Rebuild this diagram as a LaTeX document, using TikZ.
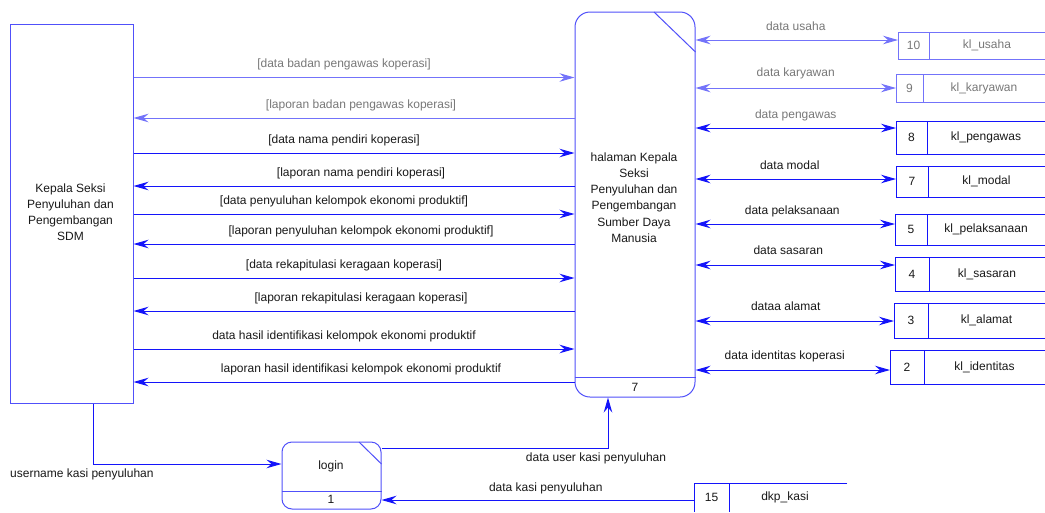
\documentclass[tikz,border=0pt]{standalone}
\usepackage{fontspec}
\setmainfont{Liberation Sans}
\usetikzlibrary{arrows.meta}

\definecolor{flowblue}{RGB}{20,20,250}
\definecolor{paleblue}{RGB}{115,115,250}
\definecolor{boxblue}{RGB}{80,80,250}
\definecolor{ink}{RGB}{25,25,25}
\definecolor{paleink}{RGB}{120,120,120}

\tikzset{
  >={Stealth[length=15pt,width=8.5pt,inset=5pt]},
  every node/.style={font=\fontsize{12}{14}\selectfont, text=ink, inner sep=0pt},
  flow/.style={draw=flowblue, line width=1pt, ->},
  bothways/.style={draw=flowblue, line width=1pt, <->},
  faded/.style={draw=paleblue},
  palelabel/.style={text=paleink},
  entitybox/.style={draw=boxblue, line width=1pt, inner sep=0pt},
  processbox/.style={draw=boxblue, line width=1pt, rounded corners=15pt, inner sep=0pt},
  boxline/.style={draw=boxblue, line width=1pt},
  storeslot/.style={inner sep=0pt, outer sep=0pt},
  storeframe/.style={draw=flowblue, line width=1pt},
}

% data store open on the right: #1 name, #2 left, #3 top, #4 bottom,
% #5 divider x, #6 number, #7 title, #8 line style, #9 text colour
\newcommand\datastore[9]{%
  \node[storeslot, anchor=north west,
        minimum width={(1045-#2)*1pt}, minimum height={(#4-#3)*1pt}] (#1) at (#2,#3) {};
  \draw[storeframe,#8] (#1.north east) -- (#1.north west) -- (#1.south west) -- (#1.south east)
        (#5,#3) -- (#5,#4);
  \node[text=#9] (#1-num) at ({(#2+#5)/2},{(#3+#4)/2}) {#6};
  \node[text=#9] (#1-name) at ({(#5+1045)/2},{(#3+#4)/2}) {#7};
}

\begin{document}
\begin{tikzpicture}[x=1pt,y=-1pt]
\fill[white] (0,0) rectangle (1045,512);
\useasboundingbox (0,0) rectangle (1045,512);

% external entity
\node[entitybox, minimum width=123pt, minimum height=379pt] (ent) at (71.5,213.5) {};
\node[align=center, font=\fontsize{12}{16}\selectfont] (enttext) at (70.5,212)
  {Kepala Seksi\\Penyuluhan dan\\Pengembangan\\SDM};

% process 7
\node[processbox, minimum width=120pt, minimum height=385pt] (proc) at (635,204.5) {};
\draw[boxline] (proc.west |- 0,377) -- (proc.east |- 0,377);
\draw[boxline] (654,12) -- (proc.east |- 0,52);
\node (procid) at (635,387) {7};
\node[align=center, font=\fontsize{12}{16.2}\selectfont] (proctext) at (634,197.5)
  {halaman Kepala\\Seksi\\Penyuluhan dan\\Pengembangan\\Sumber Daya\\Manusia};

% process 1
\node[processbox, rounded corners=10pt, minimum width=99pt, minimum height=67pt] (login) at (331.5,475.5) {};
\draw[boxline] (login.west |- 0,491) -- (login.east |- 0,491);
\draw[boxline] (359,442) -- (login.east |- 0,464);
\node (logintext) at (331,466) {login};
\node (loginid) at (331,499) {1};

% flows between entity and process 7
\draw[flow, faded] (ent.east |- 0,77.5) -- (proc.west |- 0,77.5)
  node[palelabel, midway, xshift=-10pt, yshift=13pt] {[data badan pengawas koperasi]};
\draw[flow, faded] (proc.west |- 0,118) -- (ent.east |- 0,118)
  node[palelabel, midway, xshift=7pt, yshift=13pt] {[laporan badan pengawas koperasi]};
\draw[flow] (ent.east |- 0,153) -- (proc.west |- 0,153)
  node[midway, xshift=-10pt, yshift=13pt] {[data nama pendiri koperasi]};
\draw[flow] (proc.west |- 0,186) -- (ent.east |- 0,186)
  node[midway, xshift=7pt, yshift=13pt] {[laporan nama pendiri koperasi]};
\draw[flow] (ent.east |- 0,214) -- (proc.west |- 0,214)
  node[midway, xshift=-10pt, yshift=13pt] {[data penyuluhan kelompok ekonomi produktif]};
\draw[flow] (proc.west |- 0,244) -- (ent.east |- 0,244)
  node[midway, xshift=7pt, yshift=13pt] {[laporan penyuluhan kelompok ekonomi produktif]};
\draw[flow] (ent.east |- 0,278) -- (proc.west |- 0,278)
  node[midway, xshift=-10pt, yshift=13pt] {[data rekapitulasi keragaan koperasi]};
\draw[flow] (proc.west |- 0,311) -- (ent.east |- 0,311)
  node[midway, xshift=7pt, yshift=13pt] {[laporan rekapitulasi keragaan koperasi]};
\draw[flow] (ent.east |- 0,349) -- (proc.west |- 0,349)
  node[midway, xshift=-10pt, yshift=13pt] {data hasil identifikasi kelompok ekonomi produktif};
\draw[flow] (proc.west |- 0,382) -- (ent.east |- 0,382)
  node[midway, xshift=7pt, yshift=13pt] {laporan hasil identifikasi kelompok ekonomi produktif};

% data stores
\datastore{s10}{898}{32}{59}{929}{10}{kl\_usaha}{faded}{paleink}
\datastore{s9}{896}{74}{102}{923}{9}{kl\_karyawan}{faded}{paleink}
\datastore{s8}{896}{121}{154}{927}{8}{kl\_pengawas}{}{ink}
\datastore{s7}{896}{166}{197}{928}{7}{kl\_modal}{}{ink}
\datastore{s5}{895}{214}{245}{927}{5}{kl\_pelaksanaan}{}{ink}
\datastore{s4}{895}{257}{291}{929}{4}{kl\_sasaran}{}{ink}
\datastore{s3}{894}{303}{338}{928}{3}{kl\_alamat}{}{ink}
\datastore{s2}{890}{350}{384}{924}{2}{kl\_identitas}{}{ink}

% flows between process 7 and the stores
\draw[bothways, faded] (proc.east |- 0,40) -- (s10.west |- 0,40)
  node[palelabel, midway, xshift=-1pt, yshift=14pt] {data usaha};
\draw[bothways, faded] (proc.east |- 0,88) -- (s9.west |- 0,88)
  node[palelabel, midway, yshift=15pt] {data karyawan};
\draw[bothways] (proc.east |- 0,128) -- (s8.west |- 0,128)
  node[palelabel, midway, yshift=13pt] {data pengawas};
\draw[bothways] (proc.east |- 0,179) -- (s7.west |- 0,179)
  node[midway, xshift=-6pt, yshift=14pt] {data modal};
\draw[bothways] (proc.east |- 0,224) -- (s5.west |- 0,224)
  node[midway, xshift=-3pt, yshift=13pt] {data pelaksanaan};
\draw[bothways] (proc.east |- 0,265) -- (s4.west |- 0,265)
  node[midway, xshift=-7pt, yshift=15pt] {data sasaran};
\draw[bothways] (proc.east |- 0,321) -- (s3.west |- 0,321)
  node[midway, xshift=-9pt, yshift=15pt] {dataa alamat};
\draw[bothways] (proc.east |- 0,370) -- (s2.west |- 0,370)
  node[midway, xshift=-8pt, yshift=14pt] {data identitas koperasi};

% store 15, running off the lower edge
\node[storeslot, anchor=north west, minimum width=153pt, minimum height=29pt] (s15) at (694,483) {};
\draw[storeframe] (s15.north east) -- (s15.north west) -- (s15.south west)
  (729,483) -- (729,512);
\node (s15-num) at (711.5,497) {15};
\node (s15-name) at (785,497) {dkp\_kasi};

% login flows
\draw[flow] ([xshift=21.5pt]ent.south) |- (login.west |- 0,464);
\node[anchor=west] (userlabel) at (10,474) {username kasi penyuluhan};
\draw[flow] (login.east |- 0,448) -| ([xshift=-27pt]proc.south);
\node (userdata) at (596,458) {data user kasi penyuluhan};
\draw[flow] (s15.west |- 0,500) -- (login.east |- 0,500)
  node[midway, xshift=8pt, yshift=12pt] {data kasi penyuluhan};
\end{tikzpicture}
\end{document}
